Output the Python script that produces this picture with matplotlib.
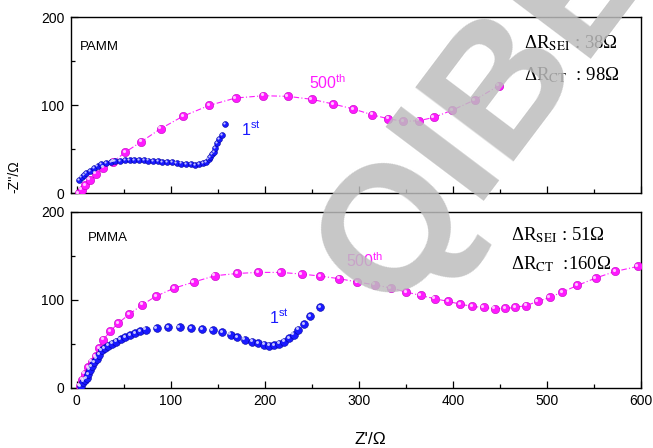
import matplotlib
matplotlib.use("Agg")
import matplotlib.pyplot as plt
from matplotlib.transforms import offset_copy

plt.rcParams['font.family'] = ['Liberation Sans', 'DejaVu Sans']
plt.rcParams['mathtext.fontset'] = 'custom'
plt.rcParams['mathtext.rm'] = 'Liberation Sans'
plt.rcParams['mathtext.it'] = 'Liberation Sans:italic'
plt.rcParams['mathtext.bf'] = 'Liberation Sans:bold'

# ---------------- data ----------------
x_ticks = [0, 100, 200, 300, 400, 500, 600]
y_ticks = [0, 100, 200]

pamm_1st_x = [2.5, 5, 7.5, 10, 14, 18, 22, 26, 31, 36, 41, 46, 51, 56, 61, 66, 71, 76, 81, 86,
              91, 96, 101, 106, 111, 116, 121, 126, 130, 134, 137, 140, 142, 144, 145.6, 147,
              149, 151, 154.6, 158]
pamm_1st_y = [14.8, 17.8, 20, 22.5, 25.5, 28, 30.5, 32.5, 34, 35.3, 36.2, 36.8, 37.2, 37.5, 37.5,
              37.5, 37.3, 37, 36.7, 36.3, 35.8, 35.3, 34.8, 34.2, 33.6, 33.1, 32.8, 32.4, 32.5,
              33.8, 35.6, 38.5, 41, 44, 47, 51, 57, 61, 66, 78]

pamm_500_x = [2, 5, 9, 14, 20, 28, 38.8, 51.3, 68.4, 89, 113.2, 141, 168.8, 198.4, 224.4, 250,
              272.8, 294.1, 313.8, 331.2, 346.9, 363.6, 379.6, 399.3, 422.8, 448.4]
pamm_500_y = [0, 4, 9, 15, 22, 29, 35.6, 46.3, 58.3, 73.1, 87.5, 99.7, 108, 110.6, 109.9, 106.5,
              101.1, 95.5, 89, 84.4, 81.5, 82.2, 86, 94.3, 105.7, 121.9]

pmma_1st_x = [4, 6.7, 8.5, 10.4, 12, 13.9, 16, 18.2, 21, 23.8, 26.4, 29.5, 33.4, 37.5, 41.7, 46.5,
              51.3, 56.5, 62, 67.5, 73.4, 85.1, 96.9, 109.3, 121.5, 133.2, 144.6, 154.6, 163.5,
              170.6, 178.4, 186.6, 193.1, 199, 204.4, 209.7, 215.1, 220.4, 225.7, 230.4, 235.4,
              241.8, 248.2, 258.5]
pmma_1st_y = [1.2, 6.8, 9, 10.7, 15.5, 20.2, 24.5, 28.5, 33, 37.3, 42.2, 45, 47.5, 50, 52.4, 55,
              57.4, 59.8, 62, 64, 65.8, 67.7, 68.8, 68.8, 67.7, 66.6, 65, 62.7, 60.1, 57.4, 54.4,
              52.4, 50.6, 48.7, 47.5, 47.9, 49.8, 52.4, 56.3, 60.1, 65.8, 72.2, 80.9, 91.6]

pmma_500_x = [3, 6, 8.5, 12, 15.7, 20.3, 24, 28.1, 35.3, 44.1, 55.9, 69.4, 84.4, 103.6, 124.3,
              146.7, 170.6, 192.6, 216.9, 239, 258.9, 279.2, 298.1, 316.6, 333.7, 350.4, 365.7,
              380.7, 395, 407.4, 420.6, 432.4, 444.1, 455.4, 466.1, 477.6, 490, 502.5, 516, 532,
              551.6, 572.3, 596.2]
pmma_500_y = [2, 8.8, 15.6, 23, 29.6, 35.4, 45, 54.4, 63.8, 73.4, 83.6, 94.2, 104.1, 113.2, 120.1,
              127.3, 129.9, 131.1, 131.1, 129.2, 126.9, 123.9, 120.1, 117, 113.3, 108.7, 104.8,
              101.1, 98, 95, 92.3, 91.2, 89.7, 90, 91.2, 93.4, 98, 102.6, 108.7, 116.2, 124.7,
              132.2, 137.9]

BLUE = '#1a1aff'
MAG = '#ff1aff'

fig = plt.figure(figsize=(6.53, 4.48), dpi=100)
ax1 = fig.add_axes([0.109, 0.569, 0.873, 0.393])
ax2 = fig.add_axes([0.109, 0.135, 0.873, 0.392])


def balls(ax, x, y, color, dark, ms, line=False):
    if line:
        ax.plot(x, y, color=color, lw=0.8, ls=(0, (5, 2, 1, 2)), zorder=2)
    ax.plot(x, y, ls='none', marker='o', ms=ms, color=color, mec=dark, mew=0.4, zorder=3)
    tr = offset_copy(ax.transData, fig=fig, x=-ms * 0.18, y=ms * 0.18, units='points')
    ax.plot(x, y, ls='none', marker='o', ms=ms * 0.38, color='white', alpha=0.75,
            mew=0, transform=tr, zorder=4)


for ax in (ax1, ax2):
    ax.set_xlim(-6, 600)
    ax.set_ylim(0, 200)
    ax.set_xticks(x_ticks)
    ax.set_xticks([50, 150, 250, 350, 450, 550], minor=True)
    ax.set_yticks(y_ticks)
    ax.set_yticks([50, 150], minor=True)
    ax.tick_params(direction='in', which='major', length=5, width=0.9, labelsize=10, pad=5)
    ax.tick_params(direction='in', which='minor', length=3, width=0.9)
    for s in ax.spines.values():
        s.set_linewidth(1.0)

ax1.tick_params(labelbottom=False)

balls(ax1, pamm_500_x, pamm_500_y, MAG, '#c000c0', 6.0, line=True)
balls(ax1, pamm_1st_x, pamm_1st_y, BLUE, '#0000a0', 4.2)
balls(ax2, pmma_500_x, pmma_500_y, MAG, '#c000c0', 6.0, line=True)
balls(ax2, pmma_1st_x, pmma_1st_y, BLUE, '#0000a0', 5.6)

ax1.text(0.015, 0.83, 'PAMM', transform=ax1.transAxes, fontsize=9.5, va='center')
ax2.text(0.03, 0.85, 'PMMA', transform=ax2.transAxes, fontsize=9.5, va='center')

ax1.text(247, 118, '500$^{\\rm th}$', color=MAG, fontsize=11.5)
ax1.text(174, 66, '1$^{\\rm st}$', color=BLUE, fontsize=11.5)
ax2.text(286, 137.5, '500$^{\\rm th}$', color=MAG, fontsize=11.5)
ax2.text(204, 73.5, '1$^{\\rm st}$', color=BLUE, fontsize=11.5)

kw = dict(fontsize=13.5, family='Liberation Serif', math_fontfamily='stix', va='center')
ax1.text(475, 170, '\u0394R$_{\\rm SEI}$ : 38\u03a9', **kw)
ax1.text(475, 134, '\u0394R$_{\\rm CT}$  : 98\u03a9', **kw)
ax2.text(462, 174, '\u0394R$_{\\rm SEI}$ : 51\u03a9', **kw)
ax2.text(462, 141, '\u0394R$_{\\rm CT}$  :160\u03a9', **kw)

fig.text(0.022, 0.605, "-Z''/\u03a9", rotation=90, fontsize=10, ha='center', va='center')
fig.text(0.567, 0.003, "Z'/\u03a9", fontsize=12.5, ha='center', va='bottom')

# watermark
fig.text(0.600, 0.300, 'QIBEBT', fontsize=128, fontweight='bold', color='#bdbdbd', alpha=0.85,
         rotation=53, rotation_mode='anchor', ha='left', va='baseline', zorder=10)

fig.savefig('out.png', dpi=100)
